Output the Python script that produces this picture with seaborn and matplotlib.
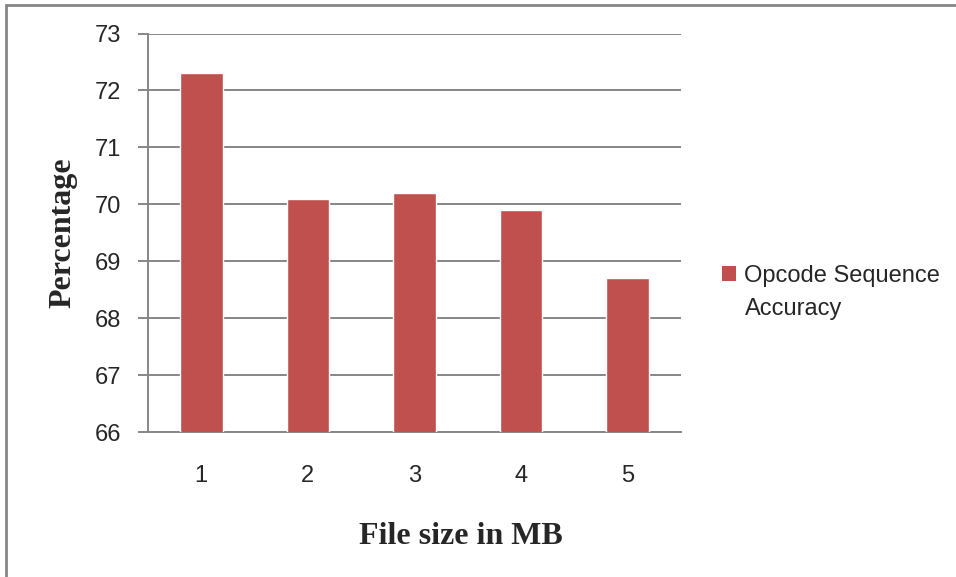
import numpy as np
import pandas as pd
import matplotlib
matplotlib.use("Agg")
import matplotlib.pyplot as plt
from matplotlib.patches import Patch, Rectangle
import seaborn as sns

sns.set_style("white")

# data
file_sizes = ["1", "2", "3", "4", "5"]
accuracy = [72.3, 70.1, 70.2, 69.9, 68.7]
series_name = ["Opcode Sequence", "Accuracy"]
y_ticks = [66, 67, 68, 69, 70, 71, 72, 73]

bar_color = "#C0504D"
grid_color = "#868686"

df = pd.DataFrame({"size": file_sizes, "acc": accuracy})

fig = plt.figure(figsize=(9.56, 5.77), dpi=100)
ax = fig.add_axes([148 / 956, 1 - 432 / 577, (681 - 148) / 956, (432 - 33.5) / 577])

sns.barplot(data=df, x="size", y="acc", color=bar_color, width=0.4,
            saturation=1, ax=ax, zorder=3)

ax.set_ylim(66, 73)
ax.set_yticks(y_ticks)
ax.yaxis.grid(True, color=grid_color, linewidth=1.4, zorder=0)
ax.set_axisbelow(True)

for side in ["top", "right"]:
    ax.spines[side].set_visible(False)
for side in ["left", "bottom"]:
    ax.spines[side].set_color(grid_color)
    ax.spines[side].set_linewidth(1.4)

ax.tick_params(axis="y", length=7, width=1.4, color=grid_color, pad=12,
               labelsize=17, left=True)
ax.tick_params(axis="x", length=0, pad=24, labelsize=17)
for lab in ax.get_xticklabels() + ax.get_yticklabels():
    lab.set_fontfamily("Liberation Sans")

# x title sits right of the axes centre in the reference
ax.set_xlabel("File size in MB", fontfamily="Liberation Serif",
              fontweight="bold", fontsize=23, labelpad=25, x=0.587)
ax.set_ylabel("Percentage", fontfamily="Liberation Serif",
              fontweight="bold", fontsize=23, labelpad=12.5)

# legend: swatch next to the first line, second line wrapped below
handle = Patch(facecolor=bar_color, edgecolor="none")
fig.legend([handle], [series_name[0]], loc="upper left",
           bbox_to_anchor=(710 / 956, 1 - 253 / 577), frameon=False,
           prop={"family": "Liberation Sans", "size": 17},
           handlelength=0.6, handleheight=0.6, handletextpad=0.35,
           borderpad=0)
fig.text(745 / 956, 1 - 315 / 577, series_name[1], family="Liberation Sans",
         fontsize=17, va="baseline", ha="left")

# outer chart border (only top and left edges visible in the reference)
fig.patches.append(Rectangle((6 / 956, -0.1), 1.2, 1.1 - 4.5 / 577,
                             transform=fig.transFigure, fill=False,
                             edgecolor=grid_color, linewidth=2))

fig.savefig("out.png", dpi=100)
